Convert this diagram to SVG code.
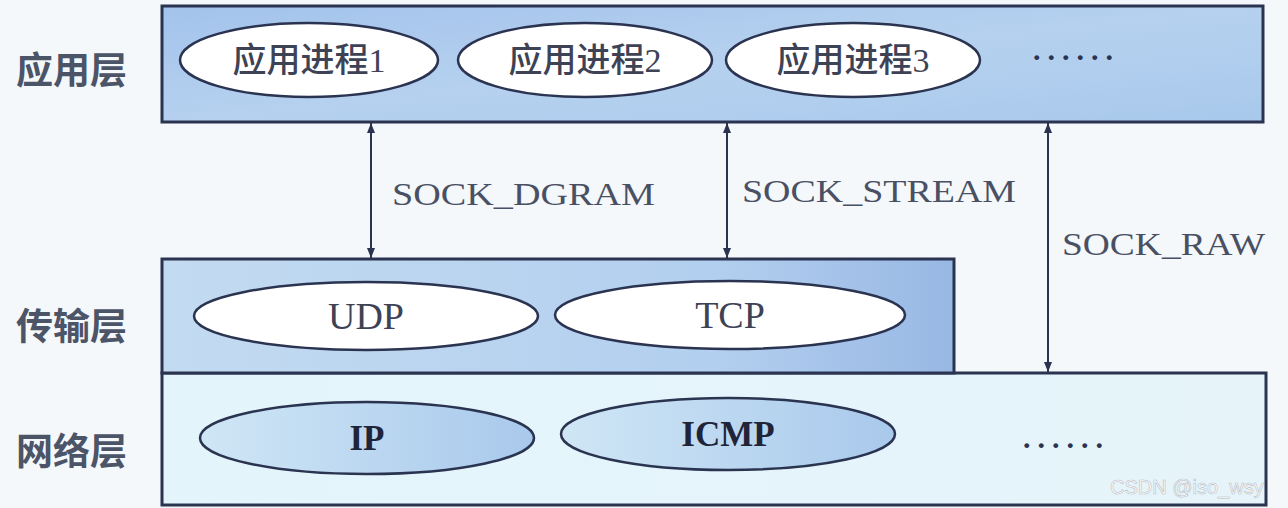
<svg xmlns="http://www.w3.org/2000/svg" width="1288" height="508" viewBox="0 0 1288 508">
<defs>
<linearGradient id="gApp" x1="0" y1="0" x2="1" y2="1">
<stop offset="0" stop-color="#a3c3ec"/><stop offset="0.5" stop-color="#b6d1ef"/><stop offset="1" stop-color="#a8c9ec"/>
</linearGradient>
<linearGradient id="gTr" x1="0" y1="0" x2="1" y2="0">
<stop offset="0" stop-color="#c3dbf1"/><stop offset="0.7" stop-color="#b3cfef"/><stop offset="1" stop-color="#98b8e4"/>
</linearGradient>
<linearGradient id="gNet" x1="0" y1="0" x2="1" y2="0">
<stop offset="0" stop-color="#e3f5fb"/><stop offset="1" stop-color="#e6f4fa"/>
</linearGradient>
<linearGradient id="gEl" x1="0" y1="0" x2="1" y2="0">
<stop offset="0" stop-color="#cfe6f5"/><stop offset="1" stop-color="#a9c9ec"/>
</linearGradient>
<marker id="ah" viewBox="0 0 10 10" refX="10" refY="5" markerWidth="10" markerHeight="16" markerUnits="userSpaceOnUse" orient="auto-start-reverse">
<path d="M0,1 L10,5 L0,9 Z" fill="#2a3350"/>
</marker>
<style>
.layer{stroke:#2a3350;stroke-width:3}
.el{fill:#ffffff;stroke:#2a3350;stroke-width:2.5}
.elb{fill:url(#gEl);stroke:#2a3350;stroke-width:2.5}
.cn{font-family:"Liberation Serif","Noto Sans CJK SC",serif;font-size:34px;fill:#3d4255;text-anchor:middle;font-weight:500}
.side{font-family:"Noto Sans CJK SC",sans-serif;font-size:37px;fill:#4c5468;font-weight:bold}
.en{font-family:"Liberation Serif",serif;font-size:38px;fill:#3d4255;text-anchor:middle}
.enb{font-family:"Liberation Serif",serif;font-size:35px;fill:#1f2438;text-anchor:middle;font-weight:bold}
.lbl{font-family:"Liberation Serif",serif;font-size:32px;fill:#4a5064}
.dots{font-family:"Liberation Serif",serif;font-size:30px;fill:#2a3350;font-weight:bold;letter-spacing:7px}
.conn{stroke:#2a3350;stroke-width:2;fill:none}
</style>
</defs>
<rect x="0" y="0" width="1288" height="508" fill="#f4f8fa"/>
<g id="app-layer">
<rect class="layer" x="162" y="6" width="1101" height="116" fill="url(#gApp)"/>
<text class="side" x="16" y="84">应用层</text>
</g>
<g id="app1"><ellipse class="el" cx="309" cy="60" rx="129" ry="37"/><text class="cn" x="309" y="72">应用进程1</text></g>
<g id="app2"><ellipse class="el" cx="585" cy="60" rx="127" ry="37"/><text class="cn" x="585" y="72">应用进程2</text></g>
<g id="app3"><ellipse class="el" cx="853" cy="60" rx="127" ry="37"/><text class="cn" x="853" y="72">应用进程3</text></g>
<g id="app-more"><text class="dots" x="1033" y="60">......</text></g>
<g id="network-layer">
<rect class="layer" x="162" y="373" width="1104" height="132" fill="url(#gNet)"/>
<text class="side" x="16" y="465">网络层</text>
</g>
<g id="transport-layer">
<rect class="layer" x="162" y="259" width="792" height="114" fill="url(#gTr)"/>
<text class="side" x="16" y="340">传输层</text>
</g>
<g id="udp"><ellipse class="el" cx="366" cy="316" rx="172" ry="34"/><text class="en" x="366" y="329">UDP</text></g>
<g id="tcp"><ellipse class="el" cx="730" cy="315" rx="175" ry="34"/><text class="en" x="730" y="328">TCP</text></g>
<g id="ip"><ellipse class="elb" cx="367" cy="438" rx="167" ry="36"/><text class="enb" x="367" y="450">IP</text></g>
<g id="icmp"><ellipse class="elb" cx="728" cy="434" rx="167" ry="36"/><text class="enb" x="728" y="446">ICMP</text></g>
<g id="net-more"><text class="dots" x="1023" y="448">......</text></g>
<g id="connectors">
<line class="conn" x1="371" y1="123" x2="371" y2="258" marker-start="url(#ah)" marker-end="url(#ah)"/>
<line class="conn" x1="727" y1="123" x2="727" y2="258" marker-start="url(#ah)" marker-end="url(#ah)"/>
<line class="conn" x1="1048" y1="123" x2="1048" y2="372" marker-start="url(#ah)" marker-end="url(#ah)"/>
<text class="lbl" x="392" y="205" textLength="263" lengthAdjust="spacingAndGlyphs">SOCK_DGRAM</text>
<text class="lbl" x="742" y="202" textLength="274" lengthAdjust="spacingAndGlyphs">SOCK_STREAM</text>
<text class="lbl" x="1062" y="255" textLength="203" lengthAdjust="spacingAndGlyphs">SOCK_RAW</text>
</g>
<text x="1110" y="494" font-family="Liberation Sans, sans-serif" font-size="20" fill="#ffffff" stroke="#b8bcc4" stroke-width="0.6">CSDN @iso_wsy</text>
</svg>
